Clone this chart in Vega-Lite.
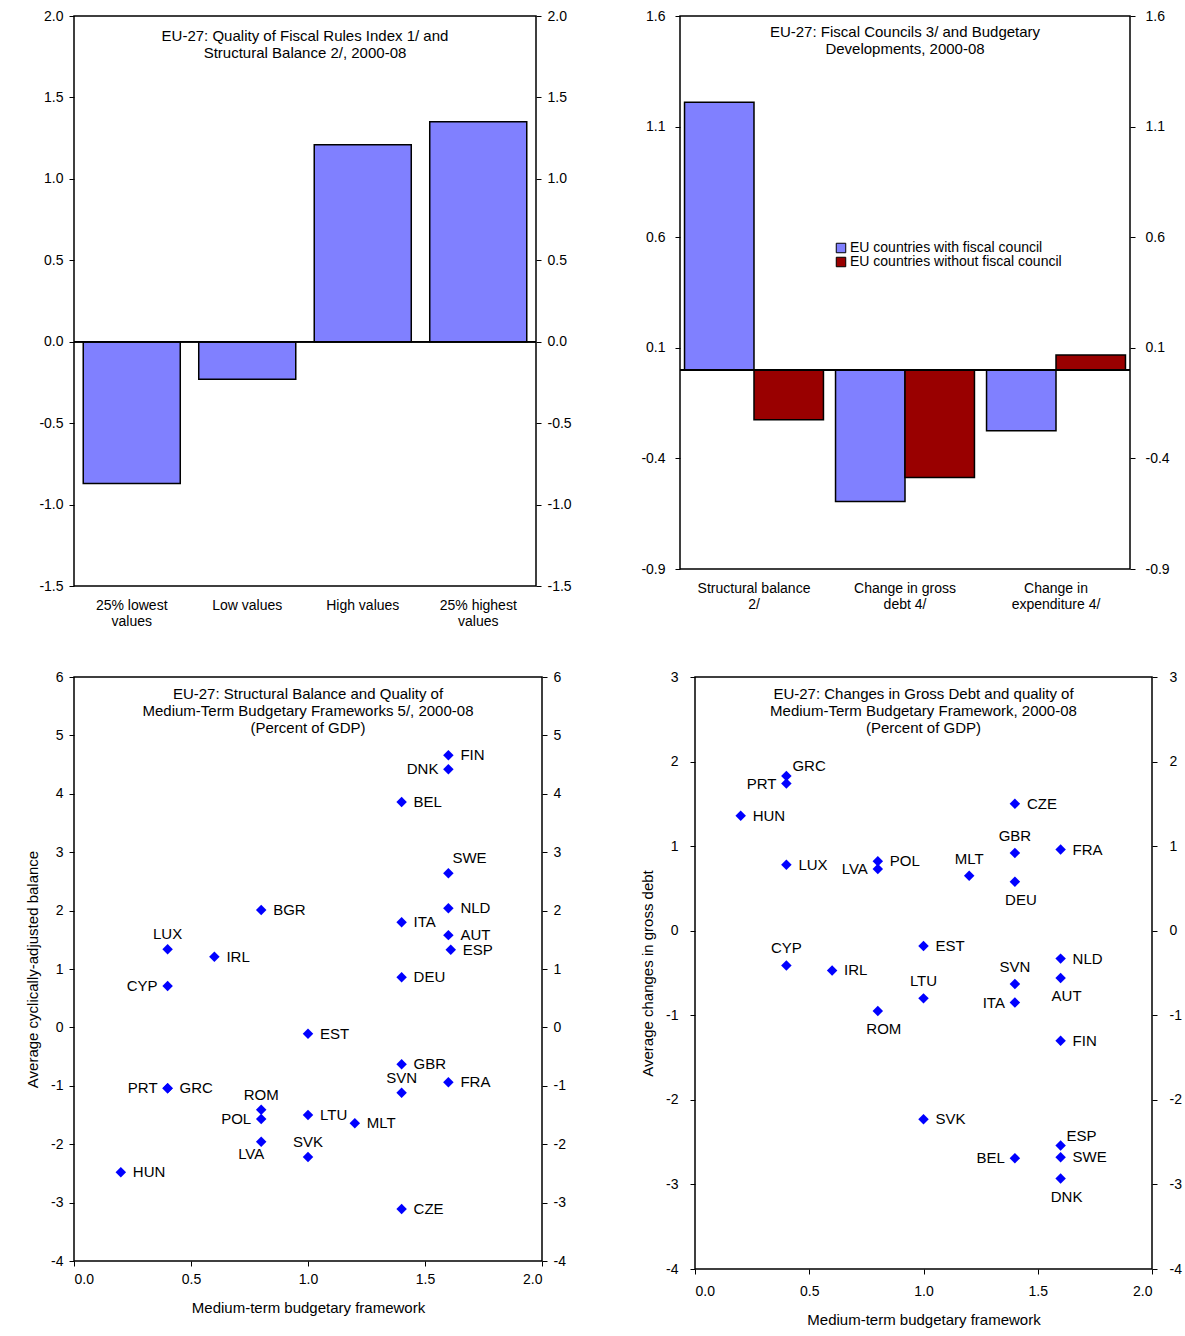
{
"$schema":"https://vega.github.io/schema/vega-lite/v6.json",
"background":"white",
"padding":{"left":24,"top":8,"right":5,"bottom":5},
"config":{"font":"Liberation Sans","view":{"stroke":"black","strokeWidth":1.5},
 "locale":{"number":{"decimal":".","thousands":",","grouping":[3],"currency":["$",""],"minus":"-"}},
 "axis":{"labelFontSize":14,"labelColor":"black","domain":false,"tickColor":"black","grid":false,"titleFontSize":15,"titleFontWeight":"normal","titleColor":"black","labelFont":"Liberation Sans","titleFont":"Liberation Sans"},
 "title":{"fontSize":15,"fontWeight":"normal","font":"Liberation Sans","color":"black"},
 "legend":{"labelFontSize":14,"labelFont":"Liberation Sans"}},
"datasets":{
 "p1":[{"c":"25% lowest|values","v":-0.87},{"c":"Low values","v":-0.23},{"c":"High values","v":1.21},{"c":"25% highest|values","v":1.35}],
 "p2":[{"c":"Structural balance|2/","g":"EU countries with fiscal council","v":1.21},{"c":"Structural balance|2/","g":"EU countries without fiscal council","v":-0.225},
  {"c":"Change in gross|debt 4/","g":"EU countries with fiscal council","v":-0.595},{"c":"Change in gross|debt 4/","g":"EU countries without fiscal council","v":-0.486},
  {"c":"Change in|expenditure 4/","g":"EU countries with fiscal council","v":-0.275},{"c":"Change in|expenditure 4/","g":"EU countries without fiscal council","v":0.068}],
 "p3":[{"c":"FIN","x":1.6,"y":4.66},{"c":"DNK","x":1.6,"y":4.42},{"c":"BEL","x":1.4,"y":3.86},{"c":"SWE","x":1.6,"y":2.64},{"c":"NLD","x":1.6,"y":2.04},{"c":"ITA","x":1.4,"y":1.8},{"c":"AUT","x":1.6,"y":1.58},{"c":"ESP","x":1.61,"y":1.33},{"c":"DEU","x":1.4,"y":0.86},{"c":"BGR","x":0.8,"y":2.01},{"c":"LUX","x":0.4,"y":1.34},{"c":"IRL","x":0.6,"y":1.21},{"c":"CYP","x":0.4,"y":0.71},{"c":"EST","x":1.0,"y":-0.11},{"c":"GBR","x":1.4,"y":-0.63},{"c":"SVN","x":1.4,"y":-1.12},{"c":"FRA","x":1.6,"y":-0.94},{"c":"PRT","x":0.4,"y":-1.04},{"c":"GRC","x":0.4,"y":-1.04},{"c":"ROM","x":0.8,"y":-1.41},{"c":"POL","x":0.8,"y":-1.57},{"c":"LVA","x":0.8,"y":-1.96},{"c":"LTU","x":1.0,"y":-1.5},{"c":"MLT","x":1.2,"y":-1.64},{"c":"SVK","x":1.0,"y":-2.22},{"c":"HUN","x":0.2,"y":-2.48},{"c":"CZE","x":1.4,"y":-3.11}],
 "p4":[{"c":"GRC","x":0.4,"y":1.83},{"c":"PRT","x":0.4,"y":1.74},{"c":"HUN","x":0.2,"y":1.36},{"c":"LUX","x":0.4,"y":0.78},{"c":"POL","x":0.8,"y":0.82},{"c":"LVA","x":0.8,"y":0.73},{"c":"CZE","x":1.4,"y":1.5},{"c":"GBR","x":1.4,"y":0.92},{"c":"FRA","x":1.6,"y":0.96},{"c":"MLT","x":1.2,"y":0.65},{"c":"DEU","x":1.4,"y":0.58},{"c":"EST","x":1.0,"y":-0.18},{"c":"CYP","x":0.4,"y":-0.41},{"c":"IRL","x":0.6,"y":-0.47},{"c":"SVN","x":1.4,"y":-0.63},{"c":"NLD","x":1.6,"y":-0.33},{"c":"AUT","x":1.6,"y":-0.56},{"c":"ITA","x":1.4,"y":-0.85},{"c":"LTU","x":1.0,"y":-0.8},{"c":"ROM","x":0.8,"y":-0.95},{"c":"FIN","x":1.6,"y":-1.3},{"c":"SVK","x":1.0,"y":-2.23},{"c":"ESP","x":1.6,"y":-2.54},{"c":"BEL","x":1.4,"y":-2.69},{"c":"SWE","x":1.6,"y":-2.68},{"c":"DNK","x":1.6,"y":-2.93}]
},
"vconcat":[
 {"hconcat":[
  {"width":462,"height":570,
   "title":{"text":["EU-27: Quality of Fiscal Rules Index 1/ and","Structural Balance 2/, 2000-08"],"orient":"top","offset":-52,"baseline":"top","frame":"group","anchor":"middle"},
   "data":{"name":"p1"},
   "layer":[
    {"mark":{"type":"bar","color":"#8080FF","stroke":"black","strokeWidth":1.5},
     "encoding":{"x":{"field":"c","type":"nominal","sort":null,"scale":{"paddingInner":0.16,"paddingOuter":0.08},"axis":{"title":null,"labelAngle":0,"ticks":false,"labelExpr":"split(datum.label,'|')","labelPadding":12}},
      "y":{"field":"v","type":"quantitative","scale":{"domain":[-1.5,2.0]},"axis":{"title":null,"values":[-1.5,-1,-0.5,0,0.5,1,1.5,2],"format":".1f","labelPadding":6}}}},
    {"mark":{"type":"rule","color":"black","strokeWidth":1.5},
     "encoding":{"y":{"datum":0,"type":"quantitative","axis":{"orient":"right","title":null,"values":[-1.5,-1,-0.5,0,0.5,1,1.5,2],"format":".1f","labelPadding":6}}}}
   ],
   "resolve":{"axis":{"y":"independent"}}},
  {"width":450,"height":553,
   "title":{"text":["EU-27: Fiscal Councils 3/ and Budgetary","Developments, 2000-08"],"orient":"top","offset":-48,"baseline":"top","frame":"group","anchor":"middle"},
   "data":{"name":"p2"},
   "layer":[
    {"mark":{"type":"bar","stroke":"black","strokeWidth":1.5},
     "encoding":{"x":{"field":"c","type":"nominal","sort":null,"scale":{"paddingInner":0.08,"paddingOuter":0.03},"axis":{"title":null,"labelAngle":0,"ticks":false,"labelExpr":"split(datum.label,'|')","labelPadding":12}},
      "xOffset":{"field":"g","type":"nominal","scale":{"paddingInner":0,"paddingOuter":0}},
      "y":{"field":"v","type":"quantitative","scale":{"domain":[-0.9,1.6],"nice":false,"zero":false},"axis":{"title":null,"values":[-0.9,-0.4,0.1,0.6,1.1,1.6],"format":".1f","labelPadding":10}},
      "color":{"field":"g","type":"nominal","scale":{"range":["#8080FF","#990000"]},"legend":{"title":null,"orient":"none","legendX":760,"legendY":225,"symbolType":"square","symbolSize":90,"symbolStrokeColor":"black","symbolStrokeWidth":1,"rowPadding":0,"labelOffset":2,"labelLimit":0}}}},
    {"mark":{"type":"rule","color":"black","strokeWidth":1.5},
     "encoding":{"y":{"datum":0,"type":"quantitative","axis":{"orient":"right","title":null,"values":[-0.9,-0.4,0.1,0.6,1.1,1.6],"format":".1f","labelPadding":10}}}}
   ],
   "resolve":{"axis":{"y":"independent"}}}
 ],"spacing":68},
 {"hconcat":[
  {"width":468,"height":584,
   "title":{"text":["EU-27: Structural Balance and Quality of","Medium-Term Budgetary Frameworks 5/, 2000-08","(Percent of GDP)"],"orient":"top","offset":-66,"baseline":"top","frame":"group","anchor":"middle"},
   "data":{"name":"p3"},
   "encoding":{"x":{"field":"x","type":"quantitative","scale":{"domain":[0,2]},"axis":{"title":"Medium-term budgetary framework","values":[0,0.5,1,1.5,2],"format":".1f","labelPadding":6,"titlePadding":14}},
     "y":{"field":"y","type":"quantitative","scale":{"domain":[-4,6]},"axis":null},"text":{"field":"c"}},
   "layer":[
    {"mark":{"type":"point","shape":"diamond","filled":true,"color":"#0000FF","size":110,"opacity":1},
     "encoding":{"y":{"field":"y","type":"quantitative","axis":{"title":"Average cyclically-adjusted balance","values":[-4,-3,-2,-1,0,1,2,3,4,5,6],"labelPadding":6,"titlePadding":10}}}},
    {"transform":[{"filter":{"not":{"field":"c","oneOf":["DNK","PRT","CYP","LUX","SVN","ROM","SVK","LVA","POL","SWE"]}}}],
     "mark":{"type":"text","align":"left","dx":12,"fontSize":15},
     "encoding":{"y":{"field":"y","type":"quantitative","axis":{"orient":"right","title":null,"values":[-4,-3,-2,-1,0,1,2,3,4,5,6],"labelPadding":6}}}},
    {"transform":[{"filter":{"field":"c","oneOf":["DNK","PRT","CYP","POL"]}}],"mark":{"type":"text","align":"right","dx":-10,"fontSize":15}},
    {"transform":[{"filter":{"field":"c","oneOf":["LUX","SVN","ROM","SVK"]}}],"mark":{"type":"text","align":"center","dy":-15,"fontSize":15}},
    {"transform":[{"filter":{"field":"c","oneOf":["SWE"]}}],"mark":{"type":"text","align":"left","dx":4,"dy":-15,"fontSize":15}},
    {"transform":[{"filter":{"field":"c","oneOf":["LVA"]}}],"mark":{"type":"text","align":"center","dy":12,"dx":-10,"fontSize":15}}
   ],
   "resolve":{"axis":{"y":"independent"}}},
  {"width":457,"height":592,
   "title":{"text":["EU-27: Changes in  Gross Debt and quality of","Medium-Term Budgetary Framework, 2000-08","(Percent of GDP)"],"orient":"top","offset":-66,"baseline":"top","frame":"group","anchor":"middle"},
   "data":{"name":"p4"},
   "encoding":{"x":{"field":"x","type":"quantitative","scale":{"domain":[0,2]},"axis":{"title":"Medium-term budgetary framework","values":[0,0.5,1,1.5,2],"format":".1f","labelPadding":10,"titlePadding":14}},
     "y":{"field":"y","type":"quantitative","scale":{"domain":[-4,3]},"axis":null},"text":{"field":"c"}},
   "layer":[
    {"mark":{"type":"point","shape":"diamond","filled":true,"color":"#0000FF","size":110,"opacity":1},
     "encoding":{"y":{"field":"y","type":"quantitative","axis":{"title":"Average changes in gross debt","values":[-4,-3,-2,-1,0,1,2,3],"labelPadding":12,"titlePadding":10}}}},
    {"transform":[{"filter":{"not":{"field":"c","oneOf":["PRT","ITA","LVA","BEL","MLT","GBR","CYP","SVN","LTU","DEU","ROM","AUT","DNK","ESP","GRC"]}}}],
     "mark":{"type":"text","align":"left","dx":12,"fontSize":15},
     "encoding":{"y":{"field":"y","type":"quantitative","axis":{"orient":"right","title":null,"values":[-4,-3,-2,-1,0,1,2,3],"labelPadding":12}}}},
    {"transform":[{"filter":{"field":"c","oneOf":["PRT","ITA","LVA","BEL"]}}],"mark":{"type":"text","align":"right","dx":-10,"fontSize":15}},
    {"transform":[{"filter":{"field":"c","oneOf":["ESP","GRC"]}}],"mark":{"type":"text","align":"left","dx":6,"dy":-10,"fontSize":15}},
    {"transform":[{"filter":{"field":"c","oneOf":["GBR","CYP","SVN","LTU","MLT"]}}],"mark":{"type":"text","align":"center","dy":-17,"fontSize":15}},
    {"transform":[{"filter":{"field":"c","oneOf":["DEU","ROM","AUT","DNK"]}}],"mark":{"type":"text","align":"center","dy":18,"dx":6,"fontSize":15}}
   ],
   "resolve":{"axis":{"y":"independent"}}}
 ],"spacing":72}
],"spacing":40
}
